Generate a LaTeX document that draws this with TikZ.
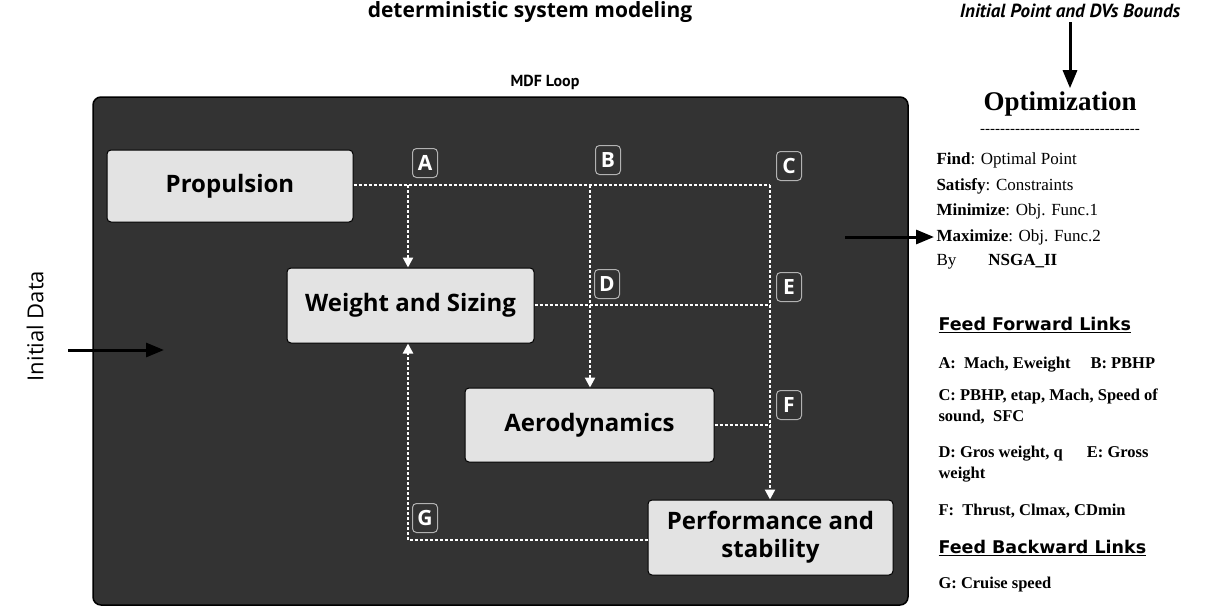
\documentclass[tikz,border=0pt]{standalone}
\usepackage{fontspec}
\setmainfont{Liberation Serif}
\setsansfont{Open Sans}
\newfontfamily\vfont{DejaVu Sans}
\newfontfamily\nfont{PT Sans}
\usetikzlibrary{arrows.meta}
\begin{document}
\begin{tikzpicture}[x=1pt,y=-1pt,
  blk/.style={draw=black,line width=1pt,fill=gray!22,rounded corners=4pt,font=\sffamily\bfseries\fontsize{24}{28}\selectfont,align=center,inner sep=0pt},
  lab/.style={fill=black!80,draw=gray!60,line width=1pt,rounded corners=4pt,text=white,font=\sffamily\bfseries\fontsize{21}{21}\selectfont,minimum width=25pt,minimum height=29pt,inner sep=0pt},
  dl/.style={white,line width=2.2pt,dash pattern=on 3pt off 2pt},
  da/.style={dl,-{Triangle[open,length=10pt,width=10pt,fill=white]}},
  ba/.style={line width=3pt,-{Triangle[length=18pt,width=14pt]}},
  rt/.style={anchor=west,font=\fontsize{17}{19}\selectfont},
  ft/.style={anchor=west,font=\bfseries\fontsize{16.5}{21}\selectfont,align=left}]
\useasboundingbox (0,0) rectangle (1209,613);
\node[font=\sffamily\bfseries\fontsize{21}{21}\selectfont] (title) at (530,12) {deterministic system modeling};
\node[font=\nfont\bfseries\itshape\fontsize{19}{19}\selectfont] (ipb) at (1070,11) {Initial Point and DVs Bounds};
\node[font=\nfont\bfseries\fontsize{16}{16}\selectfont] (mdf) at (545,82) {MDF Loop};
\node[draw=black,line width=1.5pt,fill=black!80,rounded corners=8pt,minimum width=815pt,minimum height=508pt,inner sep=0pt] (big) at (500.5,351) {};
\node[blk,minimum width=246pt,minimum height=72pt] (prop) at (230,186) {Propulsion};
\node[blk,minimum width=247pt,minimum height=75pt] (ws) at (410.5,305.5) {Weight and Sizing};
\node[blk,minimum width=249pt,minimum height=74pt] (aero) at (589.5,425) {Aerodynamics};
\node[blk,minimum width=245pt,minimum height=75pt] (perf) at (770.5,537.5) {Performance and\\stability};
\coordinate (pA) at (408,185); \coordinate (pB) at (590,185); \coordinate (pC) at (770,185);
\coordinate (pE) at (770,305); \coordinate (pF) at (770,425); \coordinate (pG) at (408,540);
\draw[dl] (prop.east|-pA) -- (pC);
\draw[da] (pA) -- (ws.north-|pA);
\draw[da] (pB) -- (aero.north-|pB);
\draw[da] (pC) -- (perf.north-|pC);
\draw[dl] (ws.east|-pE) -- (pE);
\draw[dl] (aero.east|-pF) -- (pF);
\draw[dl] (perf.west|-pG) -- (pG);
\draw[da] (pG) -- (ws.south-|pG);
\node[lab] (A) at (425,163) {A};
\node[lab] (B) at (608,160) {B};
\node[lab] (C) at (789,166) {C};
\node[lab] (D) at (607,284) {D};
\node[lab] (E) at (789,287) {E};
\node[lab] (F) at (789,405) {F};
\node[lab] (G) at (425,518) {G};
\node[rotate=90,font=\sffamily\fontsize{22}{22}\selectfont] (idata) at (35,326) {Initial Data};
\coordinate (i1) at (68,350); \coordinate (i2) at (164,350);
\draw[ba] (i1) -- (i2);
\coordinate (o1) at (845,237); \coordinate (o2) at (934,237);
\draw[ba] (o1) -- (o2);
\node[font=\bfseries\fontsize{27}{27}\selectfont] (opt) at (1060,104) {Optimization};
\coordinate (q1) at (1070,22);
\draw[ba] (q1) -- (q1|-opt.north);
\node[font=\fontsize{15}{15}\selectfont] (dash) at (1060,131) {{-}{-}{-}{-}{-}{-}{-}{-}{-}{-}{-}{-}{-}{-}{-}{-}{-}{-}{-}{-}{-}{-}{-}{-}{-}{-}{-}{-}{-}{-}{-}{-}};
\node[rt] (l1) at (933,160) {\textbf{Find}: Optimal Point};
\node[rt] (l2) at (933,186) {\textbf{Satisfy}: Constraints};
\node[rt] (l3) at (933,211) {\textbf{Minimize}: Obj. Func.1};
\node[rt] (l4) at (933,237) {\textbf{Maximize}: Obj. Func.2};
\node[rt] (l5) at (933,262) {By\hspace{32pt}\textbf{NSGA\_II}};
\node[anchor=west,font=\vfont\bfseries\fontsize{17.5}{17.5}\selectfont] (ffl) at (935,325) {\underline{Feed Forward Links}};
\node[ft] (fa) at (935,365) {A:\ \ Mach, Eweight\hspace{20pt}B: PBHP};
\node[ft] (fc) at (935,406) {C: PBHP, etap, Mach, Speed of\\sound,\ \ SFC};
\node[ft] (fd) at (935,464) {D: Gros weight, q\hspace{24pt}E: Gross\\weight};
\node[ft] (ff) at (935,511) {F:\ \ Thrust, Clmax, CDmin};
\node[anchor=west,font=\vfont\bfseries\fontsize{17.5}{17.5}\selectfont] (fbl) at (935,548) {\underline{Feed Backward Links}};
\node[ft] (fg) at (935,585) {G: Cruise speed};
\end{tikzpicture}
\end{document}
